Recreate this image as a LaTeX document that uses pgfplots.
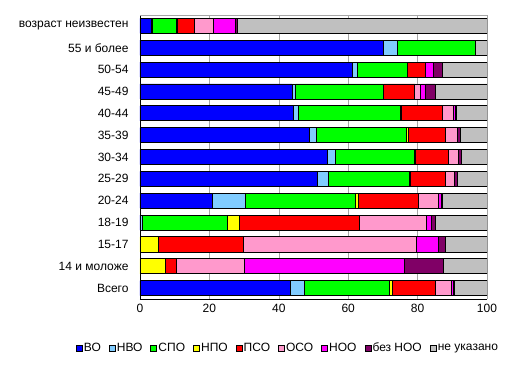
\documentclass[border=0pt]{standalone}
\usepackage{fontspec}
\setmainfont{Liberation Sans}
\usepackage{pgfplots}
\usepackage{pgfplotstable}
\pgfplotsset{compat=1.18}
\definecolor{cVO}{RGB}{0,0,255}
\definecolor{cNVO}{RGB}{128,204,255}
\definecolor{cSPO}{RGB}{0,255,0}
\definecolor{cNPO}{RGB}{255,255,0}
\definecolor{cPSO}{RGB}{255,0,0}
\definecolor{cOSO}{RGB}{255,153,204}
\definecolor{cNOO}{RGB}{255,0,255}
\definecolor{cBNOO}{RGB}{128,0,102}
\definecolor{cNU}{RGB}{192,192,192}
\pgfplotstableread{
y VO NVO SPO NPO PSO OSO NOO BNOO NU
0 43.2 4.1 24.7 0.7 12.5 4.6 0.6 0.3 9.3
1 0 0 0 7.2 3.2 19.8 46.1 11.2 12.5
2 0 0 0 5.2 24.5 49.8 6.6 2.0 11.9
3 0.2 0.4 24.7 3.2 34.6 19.5 1.5 0.9 15.0
4 20.8 9.7 31.5 1.0 17.1 6.0 0.6 0.5 12.8
5 51.1 3.3 23.1 0.5 9.9 2.8 0.0 0.7 8.6
6 53.9 2.5 22.6 0.3 9.6 2.8 0.0 0.8 7.5
7 48.9 1.8 26.0 0.5 10.9 3.4 0.0 0.7 7.8
8 44.1 1.4 29.5 0.4 11.8 3.2 0.5 0.4 8.7
9 43.8 1.1 25.1 0.2 9.0 1.7 1.4 2.7 15.0
10 61.1 1.4 14.5 0 5.3 0 2.1 2.6 13.0
11 70.2 3.9 22.4 0 0 0 0 0 3.5
12 3.3 0.2 7.0 0.3 4.8 5.5 6.5 0.4 72.0
}\data
\begin{document}
\begin{tikzpicture}[x=1pt,y=1pt]
\path[use as bounding box] (-140,-70) rectangle (373,299);
\begin{axis}[
 at={(0,0)}, anchor=south west,
 scale only axis, width=347pt, height=284pt,
 xbar stacked, bar width=0.69,
 xmin=0, xmax=100, ymin=-0.5, ymax=12.5,
 ytick={0,...,12},
 yticklabels={Всего,14 и моложе,15-17,18-19,20-24,25-29,30-34,35-39,40-44,45-49,50-54,55 и более,возраст неизвестен},
 xtick={0,20,...,100},
 axis x line*=bottom, axis y line*=left,
 axis line style={black, line width=0.8pt, -},
 xmajorgrids, major grid style={gray!70, line width=0.6pt},
 extra y ticks={12.5}, extra y tick labels={},
 extra y tick style={grid=major, major grid style={gray!70, line width=0.6pt}},
 major tick length=0pt,
 tick label style={font=\fontsize{12}{14}\selectfont},
 yticklabel style={xshift=-8pt},
 xticklabel style={yshift=-2pt},
 /pgf/number format/assume math mode=true,
 every axis plot/.append style={draw=black, line width=0.7pt},
 legend columns=-1,
 legend style={draw=none, at={(0.425,-0.1725)}, anchor=center,
   font=\fontsize{12}{14}\selectfont, inner sep=0pt,
   nodes={inner sep=1pt},
   /tikz/every even column/.append style={column sep=7pt},
   /tikz/every odd column/.append style={column sep=0.5pt}},
 legend image code/.code={\draw[#1,draw=black,line width=0.5pt] (0pt,-3pt) rectangle (6pt,3pt);},
]
\addplot[fill=cVO] table[x=VO,y=y]{\data};
\addplot[fill=cNVO] table[x=NVO,y=y]{\data};
\addplot[fill=cSPO] table[x=SPO,y=y]{\data};
\addplot[fill=cNPO] table[x=NPO,y=y]{\data};
\addplot[fill=cPSO] table[x=PSO,y=y]{\data};
\addplot[fill=cOSO] table[x=OSO,y=y]{\data};
\addplot[fill=cNOO] table[x=NOO,y=y]{\data};
\addplot[fill=cBNOO] table[x=BNOO,y=y]{\data};
\addplot[fill=cNU] table[x=NU,y=y]{\data};
\legend{ВО,НВО,СПО,НПО,ПСО,ОСО,НОО,без НОО,не указано}
\end{axis}
\end{tikzpicture}
\end{document}
